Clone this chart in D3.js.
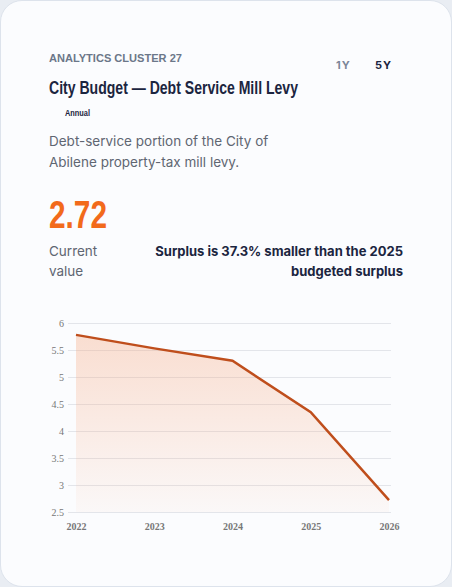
<!DOCTYPE html>
<html><head><meta charset="utf-8">
<script src="https://cdn.jsdelivr.net/npm/d3@7"></script>
<style>
body{margin:0;background:#e9edf3;font-family:Inter,"Noto Sans",sans-serif;}
.card{position:absolute;left:0;top:0;width:450px;height:585px;background:#fbfcfe;border:1px solid #dde3ec;border-radius:22px;}
.cond{font-family:"Liberation Sans",sans-serif;}
</style></head><body>
<div class="card"></div>
<svg id="chart" width="452" height="587" style="position:absolute;left:0;top:0"></svg>
<script>
// data
var years = [2022, 2023, 2024, 2025, 2026];
var levy = [5.78, 5.53, 5.30, 4.35, 2.72];
var yTicks = [2.5, 3, 3.5, 4, 4.5, 5, 5.5, 6];

var svg = d3.select("#chart");

// condensed look: squeeze text into the measured width
function squeeze(sel, w){ return sel.attr("textLength", w).attr("lengthAdjust", "spacingAndGlyphs"); }

// header texts
squeeze(svg.append("text").attr("x", 49).attr("y", 62).attr("class", "cond")
  .attr("font-size", 10).attr("font-weight", 700)
  .attr("fill", "#6b7789").text("ANALYTICS CLUSTER 27"), 133);
svg.append("text").attr("x", 336).attr("y", 69).attr("font-size", 11).attr("font-weight", 700)
  .attr("letter-spacing", 1).attr("fill", "#7b8799").text("1Y");
svg.append("text").attr("x", 375).attr("y", 69).attr("font-size", 11).attr("font-weight", 700)
  .attr("letter-spacing", 1).attr("fill", "#1b2540").text("5Y");
squeeze(svg.append("text").attr("x", 49).attr("y", 94).attr("class", "cond")
  .attr("font-size", 19).attr("font-weight", 700).attr("fill", "#1b2540")
  .text("City Budget \u2014 Debt Service Mill Levy"), 249);
squeeze(svg.append("text").attr("x", 65).attr("y", 116).attr("class", "cond")
  .attr("font-size", 9).attr("font-weight", 700).attr("fill", "#1b2540").text("Annual"), 25);
svg.append("text").attr("x", 49).attr("y", 146).attr("font-size", 13.5).attr("fill", "#5f6672")
  .text("Debt-service portion of the City of");
svg.append("text").attr("x", 49).attr("y", 167).attr("font-size", 13.5).attr("fill", "#5f6672")
  .text("Abilene property-tax mill levy.");
squeeze(svg.append("text").attr("x", 49).attr("y", 228).attr("class", "cond")
  .attr("font-size", 38).attr("font-weight", 700).attr("fill", "#f26a1b")
  .text(d3.format(".2f")(levy[levy.length - 1])), 58);
svg.append("text").attr("x", 49).attr("y", 256).attr("font-size", 13.5).attr("fill", "#5f6672").text("Current");
svg.append("text").attr("x", 49).attr("y", 276).attr("font-size", 13.5).attr("fill", "#5f6672").text("value");
svg.append("text").attr("x", 403).attr("y", 256).attr("text-anchor", "end").attr("font-size", 13)
  .attr("font-weight", 700).attr("fill", "#1b2540").text("Surplus is 37.3% smaller than the 2025");
svg.append("text").attr("x", 403).attr("y", 276).attr("text-anchor", "end").attr("font-size", 13)
  .attr("font-weight", 700).attr("fill", "#1b2540").text("budgeted surplus");

// chart
var x = d3.scalePoint().domain(years).range([76, 389]);
var y = d3.scaleLinear().domain([2.5, 6]).range([512, 323]);

var defs = svg.append("defs");
var grad = defs.append("linearGradient").attr("id", "fillGrad").attr("x1", 0).attr("x2", 0).attr("y1", 0).attr("y2", 1);
grad.append("stop").attr("offset", "0%").attr("stop-color", "#f6a57c").attr("stop-opacity", 0.35);
grad.append("stop").attr("offset", "100%").attr("stop-color", "#f6a57c").attr("stop-opacity", 0.05);

var yAxis = svg.append("g").attr("transform", "translate(68,0)")
  .call(d3.axisLeft(y).tickValues(yTicks).tickSize(-323).tickFormat(d3.format("")));
yAxis.select(".domain").remove();
yAxis.selectAll("line").attr("stroke", "#e3e5ea");
yAxis.selectAll("text").attr("x", -4).attr("font-family", "Liberation Serif, serif")
  .attr("font-size", 10).attr("fill", "#777");

var xAxis = svg.append("g").attr("transform", "translate(0,512)")
  .call(d3.axisBottom(x).tickSize(0).tickPadding(11));
xAxis.select(".domain").remove();
xAxis.selectAll("text").attr("font-family", "Liberation Serif, serif")
  .attr("font-size", 10).attr("font-weight", 700).attr("fill", "#777");

var pts = years.map(function(d, i){ return [d, levy[i]]; });
svg.append("path").datum(pts).attr("fill", "url(#fillGrad)")
  .attr("d", d3.area().x(function(d){ return x(d[0]); }).y0(y(2.5)).y1(function(d){ return y(d[1]); }));
svg.append("path").datum(pts).attr("fill", "none").attr("stroke", "#bf4e1c").attr("stroke-width", 2.5)
  .attr("d", d3.line().x(function(d){ return x(d[0]); }).y(function(d){ return y(d[1]); }));
</script>
</body></html>
